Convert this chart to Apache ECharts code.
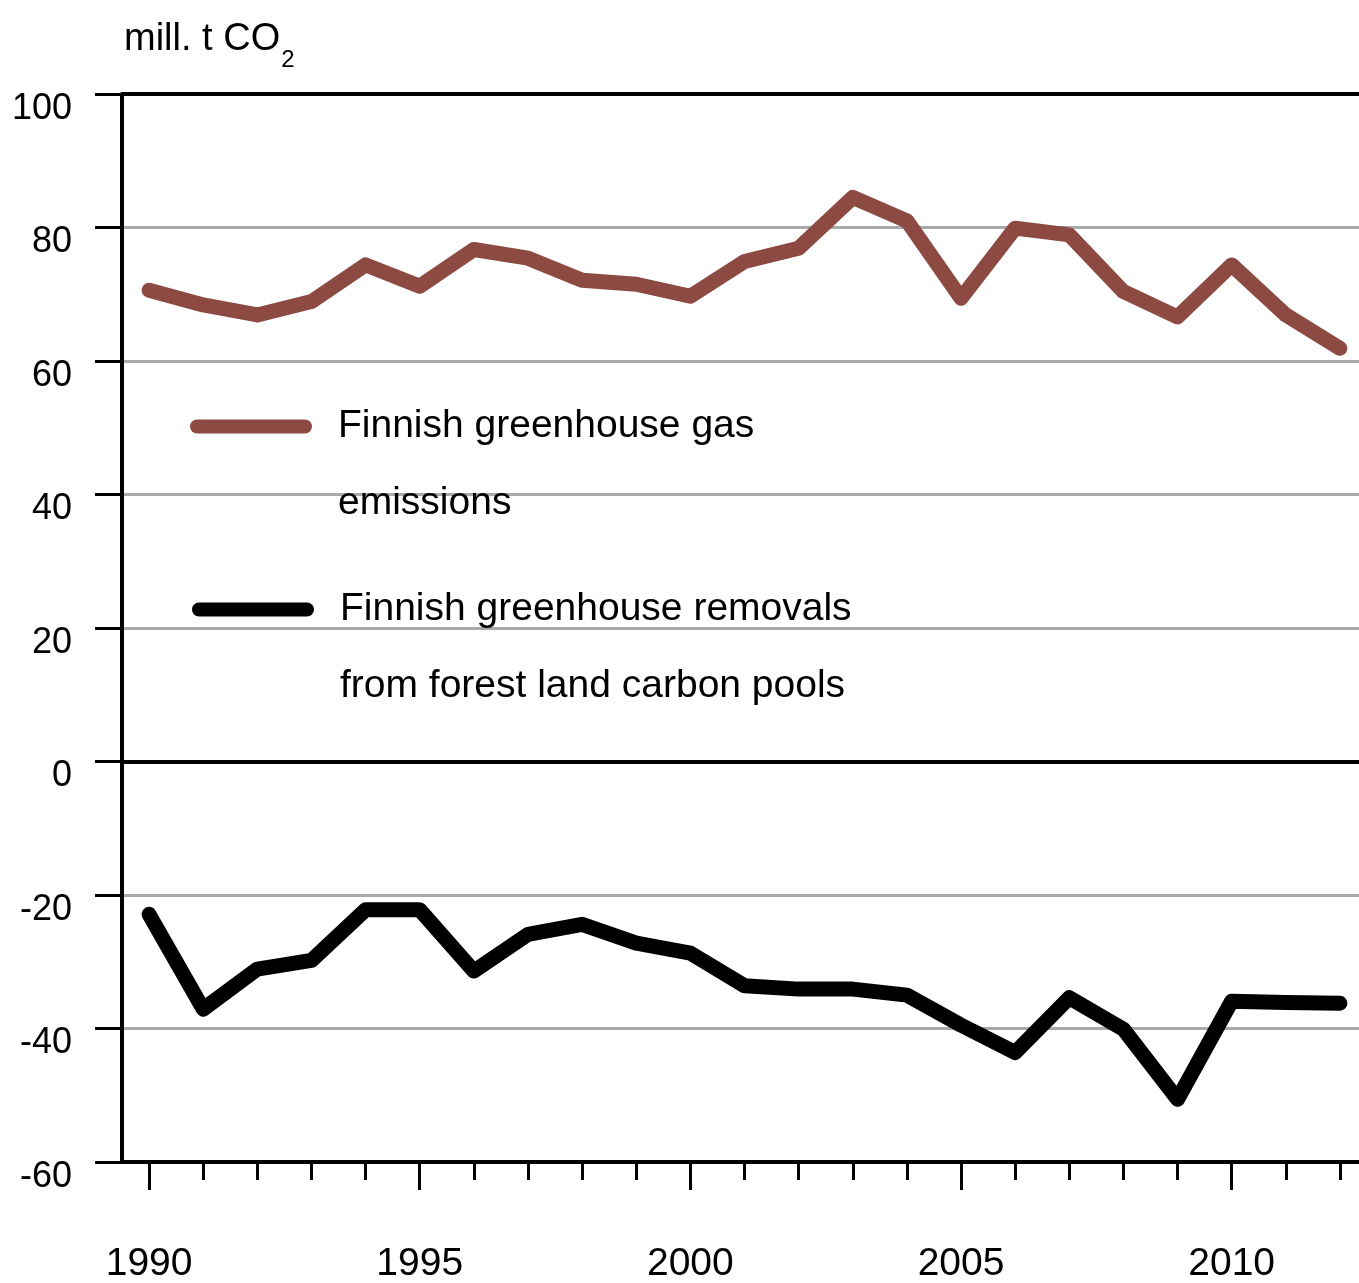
<!DOCTYPE html>
<html>
<head>
<meta charset="utf-8">
<script src="https://cdn.jsdelivr.net/npm/echarts@6/dist/echarts.min.js"></script>
<style>
html,body{margin:0;padding:0;background:#fff;}
#chart{width:1359px;height:1283px;}
</style>
</head>
<body>
<div id="chart"></div>
<script>
var years = ['1990','1991','1992','1993','1994','1995','1996','1997','1998','1999','2000','2001','2002','2003','2004','2005','2006','2007','2008','2009','2010','2011','2012'];
var emissions = [70.6, 68.4, 66.9, 68.9, 74.4, 71.2, 76.7, 75.4, 72.1, 71.5, 69.7, 74.9, 76.9, 84.5, 81.0, 69.4, 79.9, 78.9, 70.4, 66.6, 74.4, 66.9, 61.9];
var removals = [-22.9, -37.1, -31.1, -29.8, -22.2, -22.2, -31.4, -25.9, -24.4, -27.2, -28.7, -33.6, -34.1, -34.1, -35.0, -39.5, -43.6, -35.4, -40.1, -50.6, -35.9, -36.1, -36.2];
var nameEmissions = 'Finnish greenhouse gas\nemissions';
var nameRemovals = 'Finnish greenhouse removals\nfrom forest land carbon pools';
var yTicks = {min: -60, max: 100, interval: 20};

var FONT = "'Liberation Sans', Arial, sans-serif";
var capsule = 'path://M7,0 L115,0 A7,7 0 0 1 115,14 L7,14 A7,7 0 0 1 7,0 Z';

var chart = echarts.init(document.getElementById('chart'));
var legendText = {
  fontFamily: FONT, fontSize: 39, color: '#000', lineHeight: 77,
  padding: [0, 0, 0, 21]
};
chart.setOption({
  animation: false,
  backgroundColor: '#fff',
  title: {
    left: 124, top: 8, padding: 0,
    text: 'mill. t CO{s|2}',
    textStyle: {
      fontFamily: FONT, fontSize: 38, fontWeight: 'normal', color: '#000',
      rich: { s: { fontFamily: FONT, fontSize: 24, color: '#000', padding: [40, 0, 0, 1] } }
    }
  },
  grid: { left: 122, width: 1245, top: 94, height: 1068, containLabel: false, outerBoundsMode: 'none' },
  legend: [
    { data: [nameEmissions], left: 190, top: 311, padding: 0, orient: 'vertical',
      itemWidth: 122, itemHeight: 14, icon: capsule, textStyle: legendText, selectedMode: false,
      formatter: function (n) { return '\n' + n; } },
    { data: [nameRemovals], left: 192, top: 494, padding: 0, orient: 'vertical',
      itemWidth: 122, itemHeight: 14, icon: capsule, textStyle: legendText, selectedMode: false,
      formatter: function (n) { return '\n' + n; } }
  ],
  xAxis: [
    {
      type: 'category', data: years, boundaryGap: true, position: 'bottom',
      axisLine: { show: true, onZero: false, lineStyle: { color: '#000', width: 4 } },
      axisTick: { show: true, alignWithLabel: true, interval: 0, length: 18, lineStyle: { color: '#000', width: 3 } },
      axisLabel: { show: false },
      splitLine: { show: false }
    },
    {
      type: 'category', data: years, boundaryGap: true, position: 'bottom',
      axisLine: { show: false, onZero: false },
      axisTick: { show: true, alignWithLabel: true, length: 28,
        interval: function (i) { return i % 5 === 0; },
        lineStyle: { color: '#000', width: 3 } },
      axisLabel: { show: true, interval: function (i) { return i % 5 === 0; },
        margin: 80, fontFamily: FONT, fontSize: 39, color: '#000', lineHeight: 45 },
      splitLine: { show: false }
    }
  ],
  yAxis: {
    type: 'value', min: yTicks.min, max: yTicks.max, interval: yTicks.interval,
    axisLine: { show: true, lineStyle: { color: '#000', width: 4 } },
    axisTick: { show: true, inside: false, length: 27, lineStyle: { color: '#000', width: 3 } },
    axisLabel: { margin: 50, fontFamily: FONT, fontSize: 36, color: '#000',
      verticalAlign: 'top', lineHeight: 30 },
    splitLine: { show: true, lineStyle: { color: '#a9a9a9', width: 3 } }
  },
  series: [
    {
      name: nameEmissions, type: 'line', data: emissions, xAxisIndex: 0,
      symbol: 'none', color: '#8c4a42',
      lineStyle: { color: '#8c4a42', width: 15, cap: 'round', join: 'round' },
      markLine: {
        silent: true, symbol: ['none', 'none'], label: { show: false },
        lineStyle: { color: '#000', width: 4, type: 'solid' },
        data: [{ yAxis: 0 }, { yAxis: 100 }]
      },
      z: 3
    },
    {
      name: nameRemovals, type: 'line', data: removals, xAxisIndex: 0,
      symbol: 'none', color: '#000',
      lineStyle: { color: '#000', width: 15, cap: 'round', join: 'round' },
      z: 3
    }
  ]
});
</script>
</body>
</html>
